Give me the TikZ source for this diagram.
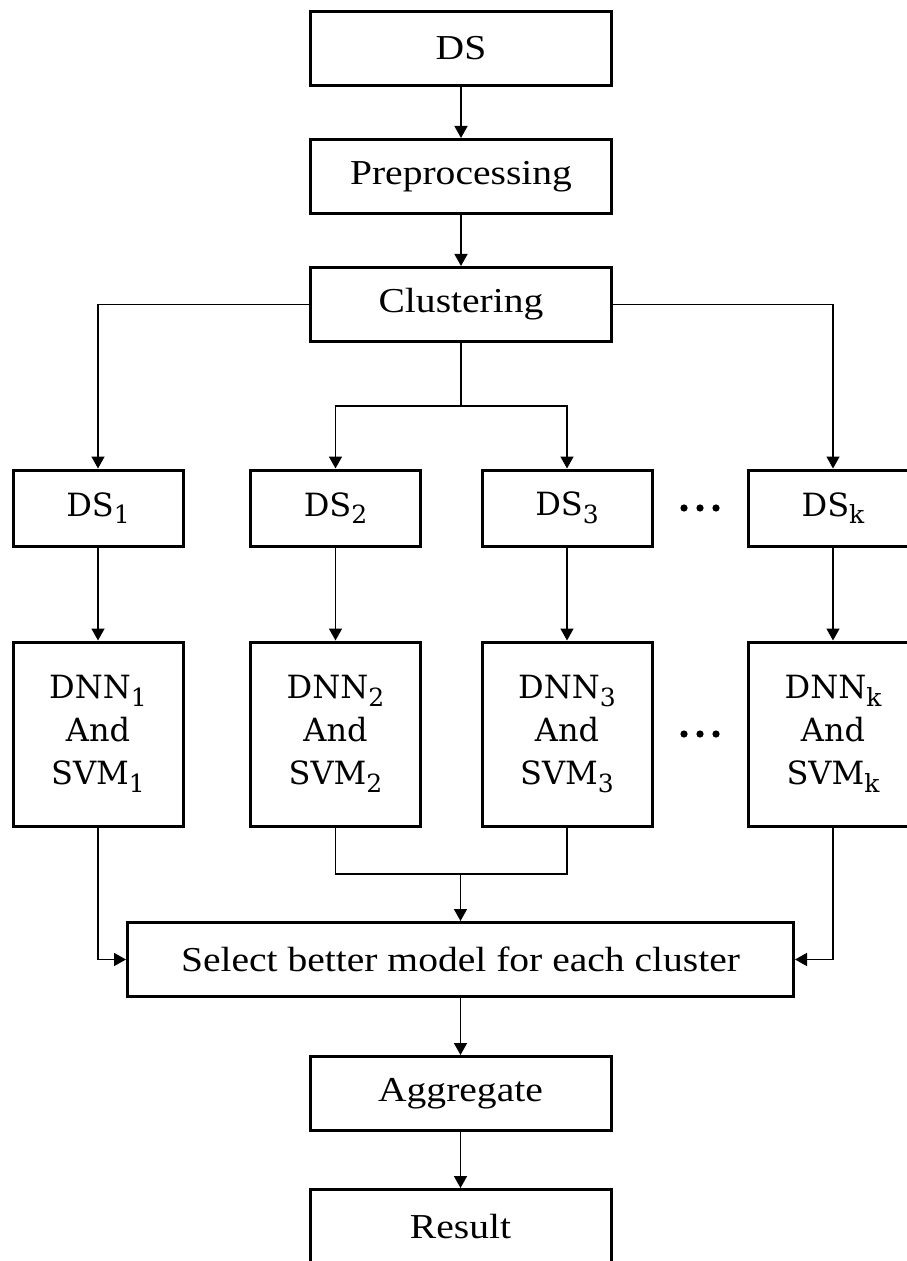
\documentclass[tikz,border=0pt]{standalone}
\usepackage{fontspec}
\setmainfont{Liberation Serif}[FakeStretch=1.13]
\newfontfamily\subfont{DejaVu Serif}
\usetikzlibrary{positioning,calc,arrows.meta}

\newcommand{\lowidx}[1]{\raisebox{-3.8pt}{\fontsize{12.5}{13}\selectfont #1}}

\tikzset{
  stage/.style={draw,line width=1.5pt,minimum width=150.5pt,minimum height=37pt,inner sep=0pt,font=\fontsize{17.5}{21}\selectfont},
  part/.style={draw,line width=1.5pt,minimum width=85pt,minimum height=38pt,inner sep=0pt,align=center,font=\subfont\fontsize{16}{21.5}\selectfont},
  model/.style={part,minimum height=92pt},
  dot/.style={circle,fill,inner sep=0pt,minimum size=3.6pt},
}

\begin{document}
\begin{tikzpicture}[on grid,node distance=64pt,line width=0.8pt,>={Triangle[length=6pt,width=6.5pt]}]
\useasboundingbox (0,0) rectangle (453pt,-630.5pt);
\node[stage] (ds) at (230.5pt,-24.25pt) {DS};
\node[stage,below=of ds] (prep) {Preprocessing};
\node[stage,below=of prep] (clus) {Clustering};
\node[part] (ds1) at (49pt,-254pt) {DS\lowidx{1}};
\node[part,right=118.75pt of ds1] (ds2) {DS\lowidx{2}};
\node[part,right=115.75pt of ds2] (ds3) {DS\lowidx{3}};
\node[part,right=133pt of ds3] (dsk) {DS\lowidx{k}};
\node[model,below=113pt of ds1] (dnn1) {DNN\lowidx{1}\\And\\SVM\lowidx{1}};
\node[model,below=113pt of ds2] (dnn2) {DNN\lowidx{2}\\And\\SVM\lowidx{2}};
\node[model,below=113pt of ds3] (dnn3) {DNN\lowidx{3}\\And\\SVM\lowidx{3}};
\node[model,below=113pt of dsk] (dnnk) {DNN\lowidx{k}\\And\\SVM\lowidx{k}};
\node[stage,minimum width=333pt] (sel) at (230.25pt,-479.75pt) {Select better model for each cluster};
\node[stage,below=67pt of sel] (agg) {Aggregate};
\node[stage,below=66.5pt of agg] (res) {Result};
% dots between column 3 and column k
\coordinate (gapds) at ($(ds3.east)!0.5!(dsk.west)$);
\coordinate (gapdnn) at ($(dnn3.east)!0.5!(dnnk.west)$);
\foreach \g in {gapds,gapdnn}
  \foreach \dx in {-8pt,0pt,8pt}
    \node[dot] at ($(\g)+(\dx,0)$) {};
\path[->]
	(ds) edge (prep)
	(prep) edge (clus)
	(ds1) edge (dnn1)
	(ds2) edge (dnn2)
	(ds3) edge (dnn3)
	(dsk) edge (dnnk)
	(sel) edge (agg)
	(agg) edge (res)
; %-path-%
\draw[->] (clus.west) -| (ds1.north);
\draw[->] (clus.east) -| (dsk.north);
\coordinate (split) at ($(clus.south)!0.5!(clus.south|-ds2.north)$);
\draw (clus.south) -- (split);
\draw[->] (split) -| (ds2.north);
\draw[->] (split) -| (ds3.north);
\draw[->] (dnn1.south) |- (sel.west);
\draw[->] (dnnk.south) |- (sel.east);
\coordinate (join) at ($(sel.north)!0.5!(sel.north|-dnn2.south)$);
\draw (dnn2.south) |- (join) -| (dnn3.south);
\draw[->] (join) -- (sel.north);
\end{tikzpicture}
\end{document}
